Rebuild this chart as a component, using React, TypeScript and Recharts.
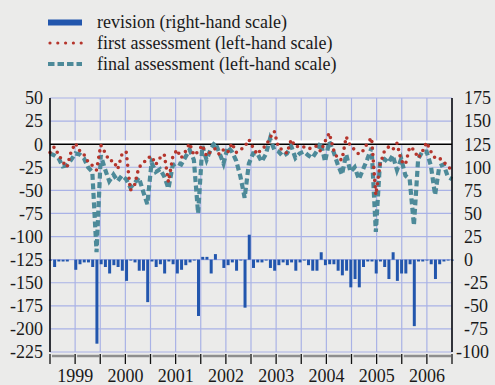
import React from "react";
import {
  ComposedChart,
  Bar,
  Line,
  XAxis,
  YAxis,
  CartesianGrid,
  ReferenceLine,
} from "recharts";

const years = ["1999", "2000", "2001", "2002", "2003", "2004", "2005", "2006"];

// first assessment (left-hand scale), monthly Jan 1999 - Dec 2006
const firstAssessment = [
  -9, -3, -11, -19, -25, -8, 1, -7, -11, -19, -23, -28,
  -1, -9, -18, -18, -27, -11, -8, -50, -44, -25, -21, -15,
  -13, -22, -15, -11, -41, -14, -6, -15, -8, 1, -12, -8,
  -1, -13, -8, -5, -11, -6, -9, 1, -9, -6, -3, 5,
  -4, -11, -5, -2, 7, 14, -4, -6, -10, 5, -3, -2,
  -3, -5, -4, -2, -8, 3, 12, -6, -16, -17, 8, -2,
  -6, -11, -7, 1, 7, -55, -22, -8, -3, -6, 1, -18,
  -22, -3, -6, -15, -8, 2, -8, -15, -15, -19, -24, -28,
];

// final assessment (left-hand scale)
const finalAssessment = [
  -10, -12, -15, -24, -23, -17, -10, -11, -15, -25, -30, -117,
  -12, -27, -40, -33, -40, -34, -38, -47, -42, -36, -51, -65,
  -20, -30, -27, -35, -48, -23, -20, -22, -14, -6, -17, -75,
  -2, -17, -5, 2, -9, -21, -3, -8, -18, -35, -58, -21,
  -10, -10, -19, -11, 6, -6, -8, -13, -10, -2, -15, -10,
  -8, -12, -15, -8, 2, -19, 3, -8, -22, -33, -11, -30,
  -25, -38, -27, -16, -4, -95, -18, -16, -20, -12, -28, -16,
  -34, -38, -88, -16, -8, -8, -23, -55, -24, -22, -35, -38,
];

// revision (right-hand scale)
const revision = [
  -1, -8, -2, -2, -2, 0, -11, -5, -3, -3, -8, -91,
  -5, -8, -15, -6, -8, -12, -23, -1, -3, -12, -12, -46,
  -2, -8, -5, -15, -2, -5, -15, -11, -6, -3, -1, -61,
  3, 3, -15, 6, 0, -9, -6, -3, -12, -1, -52, 27,
  -9, -3, -3, -1, -9, -12, -6, -3, -6, -3, -12, -3,
  -1, -6, -12, -12, 8, -6, -5, -5, -12, -17, -12, -30,
  -21, -30, -8, -2, -2, -15, -2, -8, -21, 8, -23, -15,
  -15, -5, -72, -2, -2, -1, -5, -21, -5, -2, -1, -1,
];

const leftTicks = [50, 25, 0, -25, -50, -75, -100, -125, -150, -175, -200, -225];
const rightTicks = [175, 150, 125, 100, 75, 50, 25, 0, -25, -50, -75, -100];

const data = firstAssessment.map((v, i) => ({
  m: i,
  first: v,
  final: finalAssessment[i],
  revision: revision[i],
}));

const lastIndex = data.length - 1;
const halfYearTicks = Array.from({ length: years.length * 2 + 1 }, (_, k) => (k * lastIndex) / (years.length * 2));

const FONT = 'Liberation Serif, "Times New Roman", Times, "DejaVu Serif", serif';
const FS = 18;
const BLUE = "#2256ad";
const RED = "#b5352c";
const TEAL = "#4d8a99";
const GRID = "#a9b2e6";
const BG = "#ebebea";
const TXT = "#1a1a1a";

const textStyle: React.CSSProperties = { fontFamily: FONT, fontSize: FS, fill: TXT };

const XTick = (props: any) => {
  const { x, payload } = props;
  const k = Math.round((payload.value * years.length * 2) / lastIndex);
  const step = 402 / (years.length * 2);
  const label = k % 2 === 1 ? years[(k - 1) / 2] : "";
  return (
    <g>
      {k < years.length * 2 && (
        <line x1={x + 2} x2={x + step - 1} y1={356} y2={356} stroke="#8e8e8e" strokeWidth={2.5} />
      )}
      <line x1={x} x2={x} y1={354} y2={364} stroke="#111" strokeWidth={1.3} />
      {label && (
        <text x={x} y={382} textAnchor="middle" style={textStyle}>
          {label}
        </text>
      )}
    </g>
  );
};

const RightTick = (props: any) => {
  const { x, y, payload } = props;
  const v = payload.value;
  const s = String(v);
  const dx = s.length >= 4 ? -8 : 0;
  return (
    <text x={x + dx} y={y} dy="0.355em" textAnchor="start" style={textStyle}>
      {s}
    </text>
  );
};

export default function App() {
  return (
    <div style={{ position: "absolute", left: 0, top: 0, width: 495, height: 385, background: BG, overflow: "hidden", fontFamily: FONT }}>
      <svg width={495} height={90} style={{ position: "absolute", left: 0, top: 0 }}>
        <rect x={48} y={19.5} width={34} height={6} fill={BLUE} />
        <text x={97} y={27.5} style={textStyle}>revision (right-hand scale)</text>
        <line x1={50} x2={82} y1={43} y2={43} stroke={RED} strokeWidth={3.2} strokeDasharray="0 7.8" strokeLinecap="round" />
        <text x={97} y={48.5} style={textStyle}>first assessment (left-hand scale)</text>
        <line x1={48} x2={82} y1={64} y2={64} stroke={TEAL} strokeWidth={4} strokeDasharray="6.5 3" />
        <text x={97} y={69.5} style={textStyle}>final assessment (left-hand scale)</text>
      </svg>
      <div style={{ position: "absolute", left: 0, top: 0 }}>
        <ComposedChart width={495} height={385} data={data} margin={{ top: 98, right: 0, left: 0, bottom: 0 }} style={{ fontFamily: FONT }}>
          <CartesianGrid yAxisId="left" stroke={GRID} strokeWidth={1.2} />
          <XAxis
            dataKey="m"
            type="number"
            domain={[0, lastIndex]}
            ticks={halfYearTicks}
            interval={0}
            height={33}
            axisLine={false}
            tickLine={false}
            tick={<XTick />}
            allowDecimals
          />
          <YAxis
            yAxisId="left"
            orientation="left"
            domain={[-225, 50]}
            ticks={leftTicks}
            interval={0}
            width={50}
            axisLine={{ stroke: "#000", strokeWidth: 1.5 }}
            tickLine={false}
            tickSize={6}
            tickMargin={1}
            tick={{ fill: TXT, fontSize: FS, fontFamily: FONT, style: { fontFamily: FONT } }}
          />
          <YAxis
            yAxisId="right"
            orientation="right"
            domain={[-100, 175]}
            ticks={rightTicks}
            interval={0}
            width={43}
            axisLine={{ stroke: "#000", strokeWidth: 1.5 }}
            tickLine={false}
            tickSize={6}
            tickMargin={6}
            tick={<RightTick />}
          />
          <ReferenceLine yAxisId="left" y={2.2} stroke="#ffffff" strokeWidth={3.5} />
          <ReferenceLine yAxisId="left" y={0} stroke="#000" strokeWidth={1.6} />
          <Bar yAxisId="right" dataKey="revision" fill={BLUE} barSize={3} isAnimationActive={false} />
          <Line
            yAxisId="left"
            type="linear"
            dataKey="final"
            stroke={TEAL}
            strokeWidth={4.2}
            strokeDasharray="6 3.5"
            dot={false}
            activeDot={false}
            isAnimationActive={false}
          />
          <Line
            yAxisId="left"
            type="linear"
            dataKey="first"
            stroke={RED}
            strokeWidth={3.6}
            strokeDasharray="0 6.5"
            strokeLinecap="round"
            dot={false}
            activeDot={false}
            isAnimationActive={false}
          />
        </ComposedChart>
      </div>
    </div>
  );
}
